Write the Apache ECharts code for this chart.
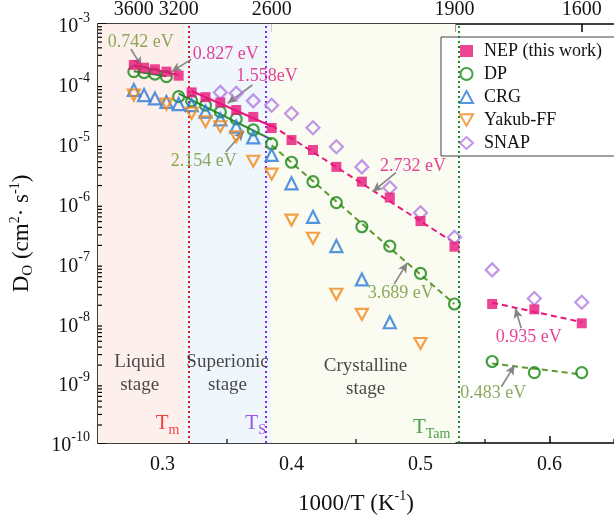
<!DOCTYPE html>
<html><head><meta charset="utf-8">
<script src="https://cdn.jsdelivr.net/npm/echarts@6/dist/echarts.min.js"></script>
<style>html,body{margin:0;padding:0;background:#fff}#c{width:614px;height:524px}</style>
</head><body><div id="c"></div>
<script>
// ---------------- data ----------------
const temps = [3600,3500,3400,3300,3200,3100,3000,2900,2800,2700,2600,2500,2400,2300,2200,2100,2000,1900,1800,1700,1600];
const nep   = [2.07e-4,1.86e-4,1.75e-4,1.60e-4,1.37e-4,7.2e-5,6.0e-5,4.9e-5,3.66e-5,2.8e-5,1.83e-5,1.15e-5,7.85e-6,4.1e-6,2.32e-6,1.26e-6,5.1e-7,1.9e-7,2.1e-8,1.71e-8,1.0e-8];
const dp    = [1.60e-4,1.54e-4,1.45e-4,1.32e-4,6.1e-5,5.2e-5,4.4e-5,3.4e-5,2.6e-5,1.7e-5,1.0e-5,4.9e-6,2.32e-6,1.04e-6,4.1e-7,1.95e-7,6.8e-8,2.1e-8,2.3e-9,1.5e-9,1.5e-9];
const crg   = [7.9e-5,6.5e-5,5.7e-5,5.0e-5,4.6e-5,4.4e-5,3.43e-5,2.56e-5,1.92e-5,1.28e-5,6.5e-6,2.18e-6,6.0e-7,1.95e-7,5.4e-8,1.04e-8,null,null,null,null,null];
const yakub = [6.5e-5,null,null,4.6e-5,null,3.22e-5,2.33e-5,1.92e-5,1.31e-5,5.1e-6,3.1e-6,5.3e-7,2.63e-7,3.05e-8,1.41e-8,null,4.6e-9,null,null,null,null];
const snap  = [null,null,null,null,null,null,null,7.2e-5,6.95e-5,5.2e-5,4.4e-5,3.2e-5,1.85e-5,8.9e-6,4.1e-6,1.84e-6,7.0e-7,2.74e-7,7.8e-8,2.6e-8,2.25e-8];
const seriesNames = ['NEP (this work)','DP','CRG','Yakub-FF','SNAP'];
const topTickTemps = [3600,3200,2600,1900,1600];
const xTickValues = [0.3,0.4,0.5,0.6];
const xMinorValues = [0.35,0.45,0.55,0.65];
const yExponents = [-10,-9,-8,-7,-6,-5,-4,-3];
const transitionTemps = {Tm:3158, Ts:2600, Ttam:1897};
// fitted segments (temperature ranges)
const fitSegments = [
  {set:'nep', from:3600, to:3200, dashed:false},
  {set:'nep', from:3100, to:2600, dashed:false},
  {set:'nep', from:2600, to:1900, dashed:true},
  {set:'nep', from:1800, to:1600, dashed:true},
  {set:'dp',  from:3600, to:3300, dashed:false},
  {set:'dp',  from:3200, to:2600, dashed:false},
  {set:'dp',  from:2600, to:1900, dashed:true},
  {set:'dp',  from:1800, to:1600, dashed:true}
];
// activation energy annotations: label and arrow in data coords
const energyLabels = [
  {t:'0.742 eV', c:'olive', x:0.2831, y:4.87e-4, ax:[0.2755,3.82e-4], ah:[0.2839,1.94e-4]},
  {t:'0.827 eV', c:'pink',  x:0.3491, y:3.15e-4, ax:[0.3223,2.57e-4], ah:[0.3069,1.60e-4]},
  {t:'1.558eV',  c:'pink',  x:0.3810, y:1.32e-4, ax:[0.3696,9.57e-5], ah:[0.3505,4.73e-5]},
  {t:'2.154 eV', c:'olive', x:0.3319, y:5.0e-6,  ax:[0.3492,7.36e-6], ah:[0.3632,1.63e-5]},
  {t:'2.732 eV', c:'pink',  x:0.4942, y:4.2e-6,  ax:[0.4809,3.28e-6], ah:[0.4630,1.58e-6]},
  {t:'3.689 eV', c:'olive', x:0.4847, y:3.17e-8, ax:[0.4796,4.5e-8],  ah:[0.4898,1.03e-7]},
  {t:'0.935 eV', c:'pink',  x:0.5840, y:5.83e-9, ax:[0.5781,8.24e-9], ah:[0.5735,1.78e-8]},
  {t:'0.483 eV', c:'olive', x:0.5564, y:6.76e-10,ax:[0.5627,8.7e-10], ah:[0.5730,2.0e-9]}
];
const stageLabels = [
  {t:'Liquid\nstage', x:0.2823, y:1.45e-9},
  {t:'Superionic\nstage', x:0.3504, y:1.45e-9},
  {t:'Crystalline\nstage', x:0.4574, y:1.25e-9}
];
const transitionLabels = [
  {main:'T', sub:'m', c:'#e8141a', x:0.3039, y:2.27e-10},
  {main:'T', sub:'S', c:'#8a2be2', x:0.3722, y:2.27e-10},
  {main:'T', sub:'Tam', c:'#1f8a1f', x:0.5087, y:1.95e-10}
];

// ---------------- helpers ----------------
const FONT = '"Liberation Serif","Times New Roman",serif';
const COL = {nep:'#e8177b', dp:'#178a17', crg:'#2a7ad8', yakub:'#f28a1c', snap:'#b27ce2',
             pinkText:'#e0137e', oliveText:'#6f9334', dpDash:'#5f9a30', arrow:'#858585'};
const sets = {nep, dp, crg, yakub, snap};
const inv = T => 1000 / T;
function pts(arr){ return temps.map((T,i)=> arr[i]==null ? null : [inv(T), arr[i]]).filter(Boolean); }
function fitLine(seg){
  const arr = sets[seg.set];
  const xs=[], ys=[];
  temps.forEach((T,i)=>{ if(T<=seg.from && T>=seg.to && arr[i]!=null){ xs.push(inv(T)); ys.push(Math.log10(arr[i])); }});
  const n=xs.length, mx=xs.reduce((a,b)=>a+b)/n, my=ys.reduce((a,b)=>a+b)/n;
  let sxy=0,sxx=0; for(let i=0;i<n;i++){ sxy+=(xs[i]-mx)*(ys[i]-my); sxx+=(xs[i]-mx)**2; }
  const b=sxy/sxx, a=my-b*mx;
  const x0=inv(seg.from), x1=inv(seg.to);
  return [[x0, Math.pow(10,a+b*x0)],[x1, Math.pow(10,a+b*x1)]];
}

const chart = echarts.init(document.getElementById('c'), null, {renderer:'canvas'});
const series = [];

// background bands and transition lines
const xTm = inv(transitionTemps.Tm), xTs = inv(transitionTemps.Ts), xTam = inv(transitionTemps.Ttam);
series.push({
  type:'line', data:[], silent:true, z:1,
  markArea:{silent:true, itemStyle:{opacity:1}, data:[
    [{xAxis:0.25, itemStyle:{color:'#fdf0ec'}},{xAxis:xTm}],
    [{xAxis:xTm, itemStyle:{color:'#eff6fc'}},{xAxis:xTs}],
    [{xAxis:xTs, itemStyle:{color:'#fafbf1'}},{xAxis:xTam}]
  ]},
  markLine:{silent:true, symbol:['none','none'], label:{show:false}, data:[
    {xAxis:xTm, lineStyle:{color:'#e8141a', width:2, type:[2,3]}},
    {xAxis:xTs, lineStyle:{color:'#8a2be2', width:2, type:[2,3]}},
    {xAxis:xTam, lineStyle:{color:'#1f8a1f', width:2, type:[2,3]}}
  ]}
});

// fit lines
fitSegments.forEach(seg=>{
  const isDp = seg.set==='dp';
  series.push({
    type:'line', data:fitLine(seg), showSymbol:false, silent:true, z:3,
    lineStyle:{width:2, color: isDp ? (seg.dashed ? COL.dpDash : '#2d8a2d') : COL.nep, type: seg.dashed ? [6,4] : 'solid'}
  });
});

// scatter series
const downTri = 'path://M0,0 L12,0 L6,10.4 Z';
const symDefs = [
  {key:'nep', symbol:'rect', size:10, filled:true},
  {key:'dp', symbol:'circle', size:11},
  {key:'crg', symbol:'triangle', size:12},
  {key:'yakub', symbol:downTri, size:[12,11]},
  {key:'snap', symbol:'diamond', size:13}
];
symDefs.forEach((d,i)=>{
  series.push({
    name: seriesNames[i], type:'scatter', z:5+i,
    data: pts(sets[d.key]), symbol:d.symbol, symbolSize:d.size,
    itemStyle: d.filled ? {color:COL[d.key]} : {color:'rgba(255,255,255,0)', borderColor:COL[d.key], borderWidth:2.2}
  });
});
// draw order: NEP above SNAP
series[series.length-5].z = 12;

// annotation arrows
series.push({
  type:'line', data:[], silent:true, z:15,
  markLine:{silent:true, symbol:['none','arrow'], symbolSize:[7,10], label:{show:false},
    lineStyle:{color:COL.arrow, width:1.6, type:'solid'},
    data: energyLabels.map(e=>[{coord:e.ax},{coord:e.ah}])}
});
// annotation texts
series.push({
  type:'scatter', silent:true, z:16, symbolSize:0,
  data: energyLabels.map(e=>({value:[e.x,e.y], label:{show:true, position:'inside', formatter:e.t,
    color: e.c==='pink'?COL.pinkText:COL.oliveText, fontSize:18, fontFamily:FONT}}))
});
series.push({
  type:'scatter', silent:true, z:16, symbolSize:0,
  data: stageLabels.map(e=>({value:[e.x,e.y], label:{show:true, position:'inside', formatter:e.t,
    color:'#1a1a1a', fontSize:19, lineHeight:23, fontFamily:FONT, align:'center'}}))
});
series.push({
  type:'scatter', silent:true, z:16, symbolSize:0,
  data: transitionLabels.map(e=>({value:[e.x,e.y], label:{show:true, position:'inside',
    formatter:'{m|'+e.main+'}{s|'+e.sub+'}', color:e.c,
    rich:{m:{fontSize:21, fontFamily:FONT, color:e.c, verticalAlign:'bottom', lineHeight:24},
          s:{fontSize:14, fontFamily:FONT, color:e.c, verticalAlign:'bottom', lineHeight:16, padding:[0,0,-4,0]}}}}))
});

// minor ticks (log axis 2..9 per decade, and x half-steps)
const minorY = [];
for(let k=0;k<yExponents.length-1;k++){ for(let m=2;m<=9;m++) minorY.push([0.25, m*Math.pow(10,yExponents[k])]); }
series.push({
  type:'custom', silent:true, z:20, clip:false, data:minorY,
  renderItem:(p,api)=>{ const c=api.coord([api.value(0),api.value(1)]);
    return {type:'line', shape:{x1:c[0],y1:c[1],x2:c[0]+4,y2:c[1]}, style:{stroke:'#000', lineWidth:1.2}}; }
});
series.push({
  type:'custom', silent:true, z:20, clip:false, data:xMinorValues.map(v=>[v,1e-10]),
  renderItem:(p,api)=>{ const c=api.coord([api.value(0),api.value(1)]);
    return {type:'line', shape:{x1:c[0],y1:c[1],x2:c[0],y2:c[1]-4}, style:{stroke:'#000', lineWidth:1.2}}; }
});

chart.setOption({
  animation:false,
  backgroundColor:'#fff',
  grid:{left:95, top:24, width:521, height:419, containLabel:false},
  legend:{
    data: seriesNames.map((n,i)=> i===3 ? {name:n, icon:downTri} : {name:n}),
    orient:'vertical', left:441, top:37,
    itemWidth:13, itemHeight:12, itemGap:5, padding:[5,20,4,18],
    borderColor:'#444', borderWidth:1, backgroundColor:'#fff',
    textStyle:{fontSize:18, fontFamily:FONT, color:'#111', padding:[0,0,0,6]}
  },
  xAxis:[{
    type:'value', min:0.25, max:0.65, position:'bottom',
    name:'{a|1000/T (K}{b|-1}{a|)}', nameLocation:'middle', nameGap:46,
    nameTextStyle:{rich:{a:{fontSize:23, fontFamily:FONT, color:'#111', verticalAlign:'bottom', lineHeight:26},
                         b:{fontSize:14, fontFamily:FONT, color:'#111', verticalAlign:'top', lineHeight:26}}},
    axisLine:{lineStyle:{color:'#000', width:1.5}},
    axisTick:{inside:true, length:7, lineStyle:{width:1.5, color:'#000'}, customValues:xTickValues},
    axisLabel:{customValues:xTickValues, formatter:v=>v.toFixed(1), fontSize:20, fontFamily:FONT, color:'#111', margin:12},
    splitLine:{show:false}
  },{
    type:'value', min:0.25, max:0.65, position:'top',
    axisLine:{lineStyle:{color:'#000', width:1.5}},
    axisTick:{inside:true, length:8, lineStyle:{width:1.5, color:'#000'}, customValues:topTickTemps.map(inv)},
    axisLabel:{customValues:topTickTemps.map(inv), formatter:v=>String(Math.round(1000/v/100)*100), fontSize:20, fontFamily:FONT, color:'#111', margin:4},
    splitLine:{show:false}
  }],
  yAxis:{
    type:'log', logBase:10, min:1e-10, max:1e-3, interval:1,
    name:'{a|D}{s|O}{a| (cm}{p|2}{a|· s}{p|-1}{a|)}', nameLocation:'middle', nameGap:62, nameRotate:90,
    nameTextStyle:{rich:{a:{fontSize:23, fontFamily:FONT, color:'#111', verticalAlign:'middle', lineHeight:28},
                         s:{fontSize:15, fontFamily:FONT, color:'#111', verticalAlign:'bottom', lineHeight:22},
                         p:{fontSize:14, fontFamily:FONT, color:'#111', verticalAlign:'top', lineHeight:28}}},
    axisLine:{show:true, lineStyle:{color:'#000', width:1.5}},
    axisTick:{inside:true, length:8, lineStyle:{width:1.5, color:'#000'}},
    axisLabel:{margin:8, formatter:v=>'{a|10}{b|'+Math.round(Math.log10(v))+'}',
      rich:{a:{fontSize:20, fontFamily:FONT, color:'#111', verticalAlign:'bottom', lineHeight:26},
            b:{fontSize:14, fontFamily:FONT, color:'#111', verticalAlign:'top', lineHeight:26}}},
    splitLine:{show:false}
  },
  series
});
</script></body></html>
